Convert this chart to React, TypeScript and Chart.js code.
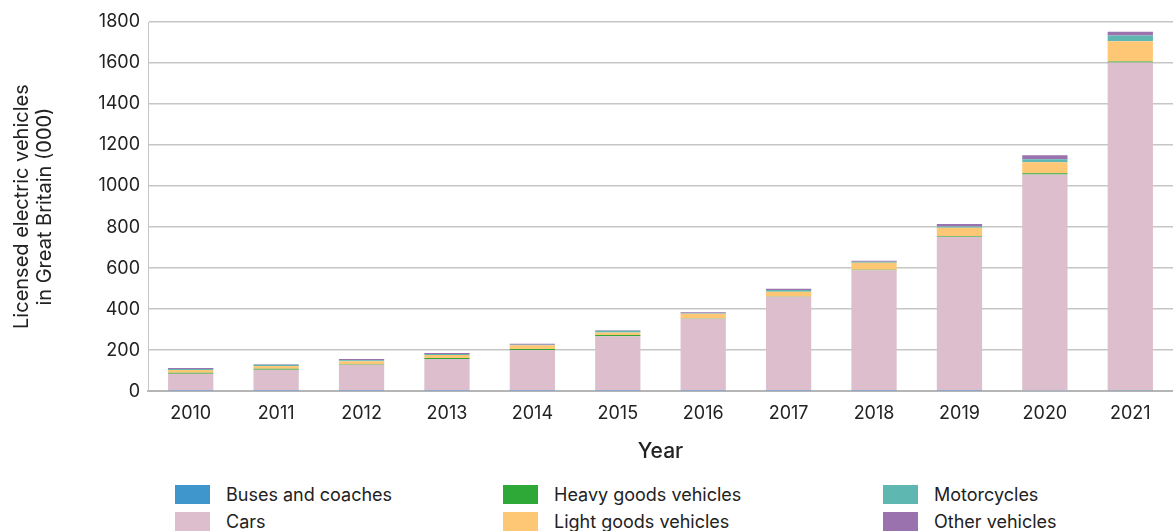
import React, { useEffect, useRef } from "react";
import { Chart, registerables } from "chart.js";

Chart.register(...registerables);

const years = ["2010", "2011", "2012", "2013", "2014", "2015", "2016", "2017", "2018", "2019", "2020", "2021"];
const buses = [0.5, 0.5, 0.5, 0.5, 0.5, 0.5, 1, 1, 1, 1.5, 2, 5];
const cars = [85, 104, 128, 156, 200, 267, 352, 459, 589, 752, 1054, 1597];
const hgv = [5, 5, 3, 5, 5, 6, 2, 2, 2, 3, 6, 5];
const lgv = [13, 13, 15, 15, 19, 13, 23, 23, 34, 40, 54, 99];
const motorcycles = [5, 6, 5, 5, 2, 8, 2, 8, 5, 6, 15, 28];
const other = [5, 3, 5, 5, 5, 3, 5, 6, 5, 13, 19, 19];

const seriesNames = ["Buses and coaches", "Cars", "Heavy goods vehicles", "Light goods vehicles", "Motorcycles", "Other vehicles"];
const seriesColors = ["#3e96cc", "#dcbecc", "#2ea836", "#fec776", "#5eb8b1", "#9a72ae"];
const seriesValues = [buses, cars, hgv, lgv, motorcycles, other];

const FONT = "Inter, 'Noto Sans', sans-serif";

export default function App() {
  const ref = useRef<HTMLCanvasElement | null>(null);

  useEffect(() => {
    if (!ref.current) return;
    const chart = new Chart(ref.current, {
      type: "bar",
      data: {
        labels: years,
        datasets: seriesNames.map((name, i) => ({
          label: name,
          data: seriesValues[i],
          backgroundColor: seriesColors[i],
          borderWidth: 0,
          categoryPercentage: 1,
          barPercentage: 0.53,
        })),
      },
      options: {
        responsive: false,
        animation: false,
        layout: { padding: { top: 22, right: 0, left: 0, bottom: 0 } },
        plugins: { legend: { display: false }, tooltip: { enabled: false } },
        scales: {
          x: {
            stacked: true,
            grid: { display: false, drawTicks: false },
            border: { color: "#b5b5b5", width: 2 },
            ticks: { color: "#222", font: { family: FONT, size: 18 }, padding: 12 },
            title: {
              display: true,
              text: "Year",
              color: "#222",
              font: { family: FONT, size: 21, weight: 500 },
              padding: { top: 2, bottom: 0 },
            },
          },
          y: {
            stacked: true,
            min: 0,
            max: 1800,
            ticks: {
              stepSize: 200,
              color: "#222",
              font: { family: FONT, size: 18 },
              padding: 8,
              callback: (v: any) => String(v),
            },
            grid: { color: "#c6c6c6", lineWidth: 1.5, drawTicks: false },
            border: { color: "#c6c6c6", width: 1 },
            title: {
              display: true,
              text: ["Licensed electric vehicles", "in Great Britain (000)"],
              color: "#222",
              font: { family: FONT, size: 20, weight: 400, lineHeight: 1.15 },
              padding: { top: 10, bottom: 10 },
            },
            afterFit: (scale: any) => {
              scale.width = 148;
            },
          },
        },
      },
    });
    return () => chart.destroy();
  }, []);

  const swatch = (i: number, left: number, top: number) => (
    <div key={i} style={{ position: "absolute", left, top, display: "flex", alignItems: "center" }}>
      <div style={{ width: 35, height: 19, background: seriesColors[i] }} />
      <span style={{ marginLeft: 16, fontFamily: FONT, fontSize: 18, color: "#222", whiteSpace: "nowrap" }}>
        {seriesNames[i]}
      </span>
    </div>
  );

  return (
    <div style={{ position: "absolute", left: 0, top: 0, width: 1173, height: 531, overflow: "hidden", background: "#fff" }}>
      <canvas ref={ref} width={1173} height={464} style={{ display: "block" }} />
      {swatch(0, 175, 484)}
      {swatch(1, 175, 511)}
      {swatch(2, 503, 484)}
      {swatch(3, 503, 511)}
      {swatch(4, 883, 484)}
      {swatch(5, 883, 511)}
    </div>
  );
}
